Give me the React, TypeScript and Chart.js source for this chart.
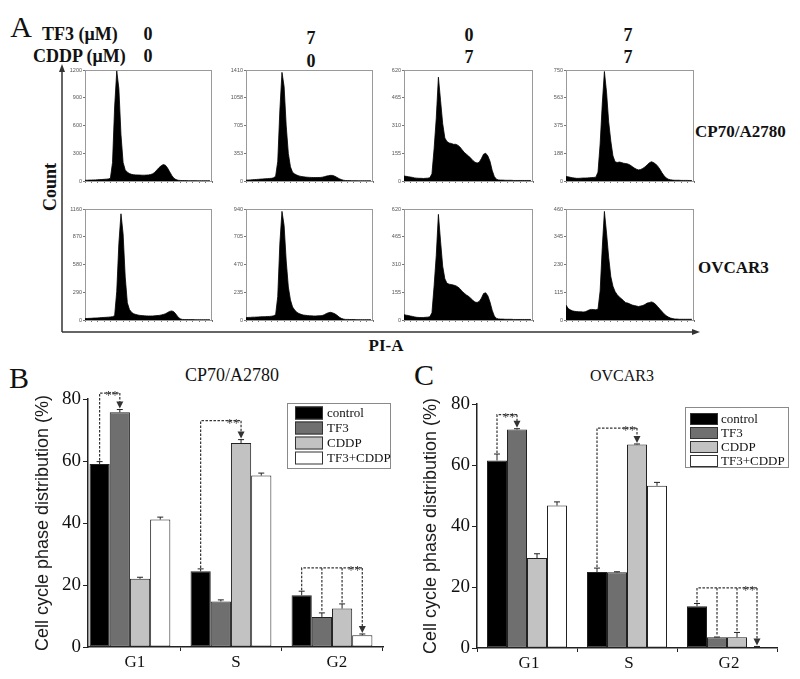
import React, { useEffect, useRef } from 'react';
import { Chart, registerables } from 'chart.js';

Chart.register(...registerables);

// ---------------- Panel A: PI-A histograms (counts per channel bin) ----------------
const binIndex = Array.from({ length: 60 }, (_, i) => i);
const histTickMarks = [0, 3, 6, 9, 12, 15, 18, 21, 24, 27, 30, 33, 36, 39, 42, 45, 48, 51, 54, 57, 60];

const cp70ControlHist = [8, 8, 10, 10, 12, 12, 14, 15, 16, 18, 20, 22, 30,
  200, 800, 1190, 1000, 500, 200, 120, 95, 80, 72, 68, 66, 65, 64, 63, 63, 64, 66, 70, 78, 95, 120, 145, 165, 178, 170, 140, 100, 60, 30, 15, 8,
  6, 5, 5, 5, 4, 4, 4, 4, 3, 3, 3, 3, 3, 3, 3];
const cp70TF3Hist = [10, 12, 14, 16, 18, 20, 22, 24, 26, 28, 30, 32, 34, 40, 60,
  250, 900, 1380, 1200, 700, 350, 180, 110, 90, 75, 65, 58, 54, 50, 48, 46, 45, 44, 44, 44, 45, 48, 55, 62, 68, 72, 70, 60, 45, 30, 18, 10,
  6, 5, 5, 4, 4, 4, 3, 3, 3, 3, 3, 3, 3];
const cp70CDDPHist = [28, 26, 24, 22, 20, 17, 16, 15, 15, 14, 15, 16, 18,
  40, 180, 350, 580, 450, 320, 240, 220, 212, 210, 205, 205, 200, 190, 175, 160, 150, 140, 128, 115, 105, 100, 105, 125, 150, 155, 140, 110, 60, 25, 10, 6,
  5, 5, 4, 4, 4, 4, 3, 3, 3, 3, 3, 3, 3, 3, 3];
const cp70ComboHist = [30, 28, 25, 22, 20, 18, 18, 19, 20, 20, 21, 22, 23, 24, 26,
  60, 250, 520, 740, 600, 400, 270, 170, 130, 125, 128, 125, 120, 118, 115, 108, 98, 88, 80, 75, 78, 85, 95, 108, 122, 130, 125, 115, 100, 80, 55, 35, 20, 12, 8,
  6, 5, 5, 5, 4, 4, 4, 4, 3, 3];
const ovControlHist = [15, 16, 17, 18, 20, 21, 22, 24, 25, 27, 28, 30, 32, 35, 45,
  300, 800, 1110, 900, 450, 180, 110, 80, 65, 58, 52, 48, 46, 44, 43, 42, 42, 42, 44, 46, 48, 52, 58, 65, 78, 90, 95, 85, 60, 30, 12, 6,
  5, 5, 4, 4, 4, 3, 3, 3, 3, 3, 3, 3, 3];
const ovTF3Hist = [20, 22, 22, 24, 24, 25, 26, 27, 28, 28, 30, 30, 32, 35, 45,
  200, 650, 920, 800, 500, 280, 170, 110, 85, 65, 55, 48, 42, 40, 38, 36, 35, 34, 34, 35, 36, 38, 45, 55, 62, 65, 60, 52, 40, 25, 14, 8,
  5, 5, 4, 4, 4, 3, 3, 3, 3, 3, 3, 3, 3];
const ovCDDPHist = [30, 27, 25, 22, 20, 17, 15, 14, 14, 14, 15, 16, 18,
  40, 190, 360, 590, 440, 300, 230, 205, 200, 198, 195, 192, 185, 175, 160, 150, 140, 132, 122, 110, 100, 98, 104, 122, 148, 152, 135, 100, 55, 22, 9, 6,
  5, 5, 4, 4, 4, 4, 3, 3, 3, 3, 3, 3, 3, 3, 3];
const ovComboHist = [62, 48, 42, 38, 36, 35, 34, 34, 33, 34, 38, 42, 44, 43, 42, 45,
  120, 300, 450, 360, 260, 180, 140, 118, 105, 95, 88, 80, 72, 70, 66, 62, 60, 58, 56, 58, 60, 64, 70, 72, 75, 72, 65, 55, 45, 35, 25, 18, 12, 8, 6,
  4, 4, 3, 3, 3, 3, 3, 3, 3];

const cp70ControlTicks = [0, 300, 600, 900, 1200];
const cp70TF3Ticks = [0, 353, 705, 1058, 1410];
const cp70CDDPTicks = [0, 155, 310, 465, 620];
const cp70ComboTicks = [0, 188, 375, 563, 750];
const ovControlTicks = [0, 290, 580, 870, 1160];
const ovTF3Ticks = [0, 235, 470, 705, 940];
const ovCDDPTicks = [0, 155, 310, 465, 620];
const ovComboTicks = [0, 115, 230, 345, 460];

// ---------------- Panels B / C: cell cycle distribution (%) ----------------
const phases = ['G1', 'S', 'G2'];
const treatments = ['control', 'TF3', 'CDDP', 'TF3+CDDP'];
const treatmentColors = ['#000000', '#6f6f6f', '#c2c2c2', '#ffffff'];

const cp70Control = [59.0, 24.4, 16.7];
const cp70TF3 = [75.7, 14.7, 9.7];
const cp70CDDP = [22.0, 65.8, 12.4];
const cp70Combo = [41.1, 55.3, 3.8];
const cp70ControlErr = [0.8, 0.8, 1.3];
const cp70TF3Err = [0.9, 0.5, 1.3];
const cp70CDDPErr = [0.5, 1.1, 1.5];
const cp70ComboErr = [0.8, 0.8, 0.4];

const ovControl = [61.5, 24.9, 13.7];
const ovTF3 = [71.6, 24.8, 3.5];
const ovCDDP = [29.5, 66.7, 3.5];
const ovCombo = [46.7, 53.2, 0.3];
const ovControlErr = [2.1, 1.3, 0.9];
const ovTF3Err = [0.3, 0.2, 0.1];
const ovCDDPErr = [1.4, 0.2, 1.6];
const ovComboErr = [1.2, 1.1, 0.2];

// significance brackets: phase index, from series, to series, bracket level (%)
const cp70Sig = [
  { phase: 0, from: 0, to: [1], level: 81.9 },
  { phase: 1, from: 0, to: [2], level: 73.0 },
  { phase: 2, from: 0, to: [1, 2, 3], level: 25.5 },
];
const ovSig = [
  { phase: 0, from: 0, to: [1], level: 76.5 },
  { phase: 1, from: 0, to: [2], level: 72.1 },
  { phase: 2, from: 0, to: [1, 2, 3], level: 19.7 },
];

const SERIF = '"Liberation Serif", "DejaVu Serif", serif';
const SANS = '"Liberation Sans", Arial, sans-serif';

// ---------------- chart builders ----------------
function histFramePlugin() {
  return {
    id: 'histFrame',
    beforeDatasetsDraw(chart: any) {
      const { ctx, chartArea: a } = chart;
      ctx.save();
      ctx.strokeStyle = '#9a9a9a';
      ctx.lineWidth = 1;
      ctx.strokeRect(a.left + 0.5, a.top + 0.5, a.right - a.left - 1, a.bottom - a.top);
      ctx.restore();
    },
  };
}

function makeHist(values: number[], ticks: number[]) {
  return {
    type: 'line',
    data: {
      labels: binIndex,
      datasets: [{
        data: values,
        fill: 'origin',
        backgroundColor: '#000',
        borderColor: '#000',
        borderWidth: 0.8,
        pointRadius: 0,
        tension: 0,
      }],
    },
    options: {
      animation: false,
      responsive: false,
      maintainAspectRatio: false,
      events: [],
      layout: { padding: { top: 4, right: 4, left: 0, bottom: 0 } },
      plugins: { legend: { display: false }, tooltip: { enabled: false } },
      scales: {
        x: {
          type: 'linear', min: 0, max: 60,
          grid: { drawOnChartArea: false, drawTicks: true, tickLength: 2, color: '#777' },
          border: { color: '#6a6a6a', width: 1 },
          ticks: { display: false },
          afterBuildTicks: (s: any) => { s.ticks = histTickMarks.map((v) => ({ value: v })); },
          afterFit: (s: any) => { s.height = 4; s.paddingLeft = 0; s.paddingRight = 0; },
        },
        y: {
          min: 0, max: ticks[ticks.length - 1],
          grid: { drawOnChartArea: false, drawTicks: true, tickLength: 2, color: '#777' },
          border: { color: '#6a6a6a', width: 1 },
          ticks: { font: { size: 5.5, family: SANS }, color: '#555', padding: 1, autoSkip: false, callback: (v: any) => String(v) },
          afterBuildTicks: (s: any) => { s.ticks = ticks.map((v) => ({ value: v })); },
          afterFit: (s: any) => { s.width = 24; s.paddingTop = 0; s.paddingBottom = 0; },
        },
      },
    },
    plugins: [histFramePlugin()],
  };
}

function decorPlugin(errors: number[][], sig: any[], lg: any) {
  return {
    id: 'decor',
    afterDatasetsDraw(chart: any) {
      const ctx = chart.ctx;
      const ys = chart.scales.y;
      const xAt = (s: number, p: number) => chart.getDatasetMeta(s).data[p].x;
      const valAt = (s: number, p: number) => chart.data.datasets[s].data[p].y;
      const errTop = (s: number, p: number) => ys.getPixelForValue(valAt(s, p) + errors[s][p]);
      ctx.save();
      // error bars (upper)
      chart.data.datasets.forEach((ds: any, s: number) => {
        ds.data.forEach((pt: any, p: number) => {
          const x = xAt(s, p);
          const y0 = ys.getPixelForValue(pt.y);
          const y1 = errTop(s, p);
          ctx.strokeStyle = '#222';
          ctx.lineWidth = 1;
          ctx.beginPath();
          ctx.moveTo(x, y0);
          ctx.lineTo(x, y1);
          ctx.moveTo(x - 3, y1);
          ctx.lineTo(x + 3, y1);
          ctx.stroke();
        });
      });
      // significance brackets
      sig.forEach((b: any) => {
        const ly = ys.getPixelForValue(b.level);
        const x0 = xAt(b.from, b.phase);
        const lastS = b.to[b.to.length - 1];
        const xl = xAt(lastS, b.phase);
        ctx.strokeStyle = '#333';
        ctx.lineWidth = 1.2;
        ctx.setLineDash([2.5, 1.5]);
        ctx.beginPath();
        ctx.moveTo(x0, errTop(b.from, b.phase) - 1);
        ctx.lineTo(x0, ly);
        ctx.lineTo(xl, ly);
        b.to.forEach((s: number, k: number) => {
          const x = xAt(s, b.phase);
          ctx.moveTo(x, ly);
          ctx.lineTo(x, errTop(s, b.phase) - (k === b.to.length - 1 ? 6 : 1));
        });
        ctx.stroke();
        ctx.setLineDash([]);
        const ay = errTop(lastS, b.phase) - 1;
        ctx.fillStyle = '#333';
        ctx.beginPath();
        ctx.moveTo(xl, ay);
        ctx.lineTo(xl - 3.5, ay - 7);
        ctx.lineTo(xl + 3.5, ay - 7);
        ctx.closePath();
        ctx.fill();
        ctx.font = `13px ${SERIF}`;
        ctx.textAlign = 'center';
        ctx.textBaseline = 'alphabetic';
        ctx.fillText('**', xl - 8, ly + 6);
      });
      ctx.restore();
    },
    afterDraw(chart: any) {
      const ctx = chart.ctx;
      ctx.save();
      ctx.strokeStyle = '#8a8a8a';
      ctx.lineWidth = 1;
      ctx.strokeRect(lg.left + 0.5, lg.top + 0.5, lg.width, lg.height);
      chart.data.datasets.forEach((ds: any, i: number) => {
        const cy = lg.firstRow + i * lg.rowGap;
        ctx.fillStyle = ds.backgroundColor;
        ctx.fillRect(lg.swatchX, cy - lg.swatchH / 2, lg.swatchW, lg.swatchH);
        ctx.strokeStyle = '#333';
        ctx.strokeRect(lg.swatchX + 0.5, cy - lg.swatchH / 2 + 0.5, lg.swatchW - 1, lg.swatchH - 1);
        ctx.fillStyle = '#111';
        ctx.font = `${lg.fontSize}px ${SERIF}`;
        ctx.textAlign = 'left';
        ctx.textBaseline = 'middle';
        ctx.fillText(ds.label, lg.textX, cy + 1);
      });
      ctx.restore();
    },
  };
}

function makeBars(cfg: any) {
  return {
    type: 'bar',
    data: {
      datasets: cfg.values.map((vals: number[], i: number) => ({
        label: treatments[i],
        data: vals.map((v, j) => ({ x: j + 1, y: v })),
        backgroundColor: treatmentColors[i],
        borderColor: '#222',
        borderWidth: 1,
        borderSkipped: false,
        barPercentage: 1,
        categoryPercentage: 0.8,
      })),
    },
    options: {
      animation: false,
      responsive: false,
      maintainAspectRatio: false,
      events: [],
      layout: { padding: cfg.padding },
      plugins: { legend: { display: false }, tooltip: { enabled: false } },
      scales: {
        x: {
          type: 'linear', min: cfg.xMin, max: cfg.xMax, offset: false,
          grid: { drawOnChartArea: false, drawTicks: true, tickLength: 4, color: '#222' },
          border: { color: '#222', width: 1.5 },
          ticks: {
            callback: (v: any) => phases[Math.round(v) - 1],
            font: { family: SERIF, size: 17 }, color: '#111', padding: 1, labelOffset: cfg.labelOffset,
          },
          afterBuildTicks: (s: any) => { s.ticks = phases.map((_, i) => ({ value: i + 1 })); },
          afterFit: (s: any) => { s.height = cfg.xHeight; s.paddingLeft = 0; s.paddingRight = 0; },
        },
        y: {
          min: 0, max: 80,
          grid: { drawOnChartArea: false, drawTicks: true, tickLength: 5, color: '#222' },
          border: { color: '#222', width: 1.5 },
          ticks: { stepSize: 20, font: { family: SERIF, size: 19 }, color: '#111', padding: 2 },
          title: {
            display: true, text: 'Cell cycle phase distribution (%)',
            font: { family: SANS, size: 18 }, color: '#1a1a1a', padding: { top: 2, bottom: 0 },
          },
          afterFit: (s: any) => { s.width = cfg.yWidth; s.paddingTop = 0; s.paddingBottom = 0; },
        },
      },
    },
    plugins: [decorPlugin(cfg.errors, cfg.sig, cfg.legend)],
  };
}

// ---------------- components ----------------
function ChartCanvas({ left, top, width, height, make }: any) {
  const ref = useRef<HTMLCanvasElement | null>(null);
  useEffect(() => {
    const chart = new Chart(ref.current as HTMLCanvasElement, make() as any);
    return () => chart.destroy();
  }, []);
  return (
    <canvas
      ref={ref}
      width={width}
      height={height}
      style={{ position: 'absolute', left, top, width, height }}
    />
  );
}

function Hist({ boxL, boxT, boxW, boxH, values, ticks }: any) {
  return (
    <ChartCanvas
      left={boxL - 24}
      top={boxT - 4}
      width={boxW + 28}
      height={boxH + 8}
      make={() => makeHist(values, ticks)}
    />
  );
}

function T({ x, y, size, bold, children, anchor = 'center', rotate = 0, family = SERIF }: any) {
  return (
    <div
      style={{
        position: 'absolute', left: x, top: y,
        transform: `translate(${anchor === 'left' ? '0' : '-50%'}, -50%) rotate(${rotate}deg)`,
        fontFamily: family, fontSize: size, fontWeight: bold ? 'bold' : 'normal',
        lineHeight: 1, whiteSpace: 'nowrap', color: '#111',
      }}
    >
      {children}
    </div>
  );
}

const cols = [[85, 127], [246, 127], [404, 129], [566, 128]];
const rows = [[70, 111], [209, 111]];

export default function App() {
  const rowData = [
    [[cp70ControlHist, cp70ControlTicks], [cp70TF3Hist, cp70TF3Ticks], [cp70CDDPHist, cp70CDDPTicks], [cp70ComboHist, cp70ComboTicks]],
    [[ovControlHist, ovControlTicks], [ovTF3Hist, ovTF3Ticks], [ovCDDPHist, ovCDDPTicks], [ovComboHist, ovComboTicks]],
  ];
  return (
    <div style={{ position: 'absolute', left: 0, top: 0, width: 800, height: 679, background: '#fff', overflow: 'hidden' }}>
      {/* Panel A texts */}
      <T x={21} y={27} size={30}>A</T>
      <T x={42} y={34} size={18} bold anchor="left">TF3 (μM)</T>
      <T x={33} y={56} size={18} bold anchor="left">CDDP (μM)</T>
      <T x={148} y={34} size={18} bold>0</T>
      <T x={148} y={56} size={18} bold>0</T>
      <T x={311} y={38} size={18} bold>7</T>
      <T x={311} y={61} size={18} bold>0</T>
      <T x={469} y={35} size={18} bold>0</T>
      <T x={469} y={57} size={18} bold>7</T>
      <T x={628} y={35} size={18} bold>7</T>
      <T x={628} y={57} size={18} bold>7</T>
      <T x={695} y={131} size={17} bold anchor="left">CP70/A2780</T>
      <T x={698} y={267} size={17} bold anchor="left">OVCAR3</T>
      <T x={50} y={187} size={18} bold rotate={-90}>Count</T>
      <T x={386} y={345} size={17} bold>PI-A</T>

      <svg width={800} height={679} style={{ position: 'absolute', left: 0, top: 0 }}>
        <line x1={62} y1={332} x2={62} y2={70} stroke="#333" strokeWidth={1.5} />
        <polygon points="62,64 59,72 65,72" fill="#333" />
        <line x1={62} y1={332} x2={693} y2={332} stroke="#333" strokeWidth={1.5} />
        <polygon points="700,332 692,329 692,335" fill="#333" />
      </svg>

      {rows.map(([rt, rh], r) =>
        cols.map(([cl, cw], c) => (
          <Hist
            key={`${r}-${c}`}
            boxL={cl} boxT={rt} boxW={cw} boxH={rh}
            values={rowData[r][c][0]} ticks={rowData[r][c][1]}
          />
        ))
      )}

      {/* Panel B */}
      <T x={19} y={378} size={30}>B</T>
      <T x={232} y={375} size={18}>CP70/A2780</T>
      <ChartCanvas
        left={0} top={360} width={400} height={320}
        make={() => makeBars({
          values: [cp70Control, cp70TF3, cp70CDDP, cp70Combo],
          errors: [cp70ControlErr, cp70TF3Err, cp70CDDPErr, cp70ComboErr],
          sig: cp70Sig,
          xMin: 0.585, xMax: 3.505, labelOffset: 5,
          padding: { left: 30, top: 39, right: 17, bottom: 0 },
          yWidth: 58, xHeight: 33,
          legend: { left: 287, top: 43, width: 103, height: 65, swatchX: 295, swatchW: 28, swatchH: 13, firstRow: 53, rowGap: 15, textX: 327, fontSize: 13 },
        })}
      />

      {/* Panel C */}
      <T x={424} y={375} size={30}>C</T>
      <T x={622} y={376} size={16}>OVCAR3</T>
      <ChartCanvas
        left={390} top={360} width={410} height={320}
        make={() => makeBars({
          values: [ovControl, ovTF3, ovCDDP, ovCombo],
          errors: [ovControlErr, ovTF3Err, ovCDDPErr, ovComboErr],
          sig: ovSig,
          xMin: 0.5, xMax: 3.5, labelOffset: 2,
          padding: { left: 28, top: 44, right: 23, bottom: 0 },
          yWidth: 59, xHeight: 32,
          legend: { left: 295, top: 47, width: 103, height: 60, swatchX: 300, swatchW: 28, swatchH: 12, firstRow: 59, rowGap: 14, textX: 331, fontSize: 13 },
        })}
      />
    </div>
  );
}
